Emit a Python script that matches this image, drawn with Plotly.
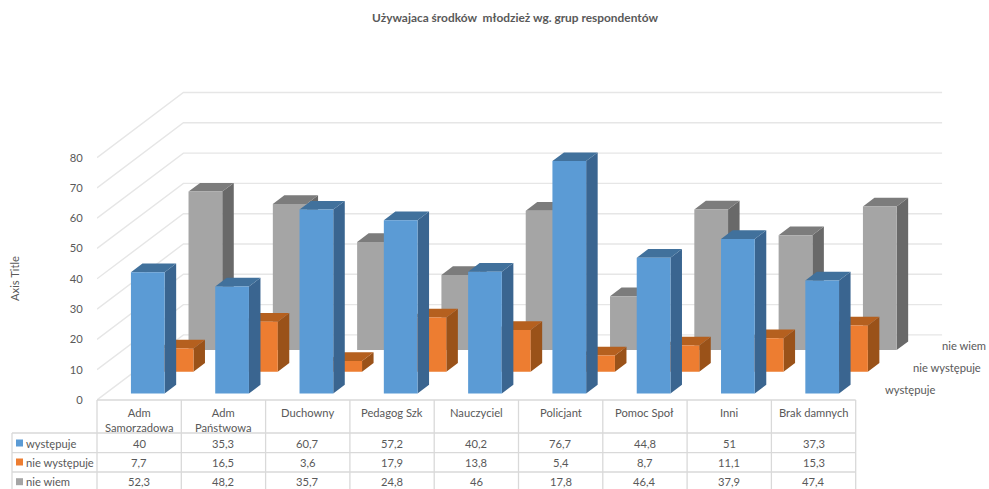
import plotly.graph_objects as go

title_text = "Używajaca środków  młodzież wg. grup respondentów"
categories = ["Adm<br>Samorzadowa", "Adm<br>Państwowa", "Duchowny", "Pedagog Szk", "Nauczyciel",
              "Policjant", "Pomoc Społ", "Inni", "Brak damnych"]
series_names = ["występuje", "nie występuje", "nie wiem"]
wystepuje = [40, 35.3, 60.7, 57.2, 40.2, 76.7, 44.8, 51, 37.3]
nie_wystepuje = [7.7, 16.5, 3.6, 17.9, 13.8, 5.4, 8.7, 11.1, 15.3]
nie_wiem = [52.3, 48.2, 35.7, 24.8, 46, 17.8, 46.4, 37.9, 47.4]
value_ticks = [0, 10, 20, 30, 40, 50, 60, 70, 80]

W, H = 989, 489
X0, Y0 = 97, 400           # front-left floor corner in window pixels
PLOT_W, PLOT_H = W - X0, Y0
CAT_PX, VAL_PX = 84.3, 3.03
KX, KY = 28.8 / CAT_PX, 21.7 / VAL_PX  # oblique shear per depth slot
LO, HI = 0.3, 0.7
FONT = "Lato"
FS = 11.2
TXT = "#595959"
GRID = "#e6e6e6"
TBL = "#d9d9d9"

styles = [("#5B9BD5", "#41719C", "#3A6590"),
          ("#ED7D31", "#B5601F", "#9A5219"),
          ("#A5A5A5", "#7C7C7C", "#696969")]
all_values = [wystepuje, nie_wystepuje, nie_wiem]


def proj(c, v, z):
    return c + KX * z, v + KY * z


def polys(faces):
    xs, ys = [], []
    for face in faces:
        for p in face + [face[0]]:
            x, y = proj(*p)
            xs.append(x)
            ys.append(y)
        xs.append(None)
        ys.append(None)
    return xs, ys


fig = go.Figure()

# walls' gridlines
gx, gy = [], []
for v in value_ticks:
    for p in [(0, v, 0), (0, v, 3), (9, v, 3)]:
        x, y = proj(*p)
        gx.append(x)
        gy.append(y)
    gx.append(None)
    gy.append(None)
fig.add_trace(go.Scatter(x=gx, y=gy, mode="lines", line=dict(color=GRID, width=1.4),
                         hoverinfo="skip", cliponaxis=False))

# bars, back series first
for s in [2, 1, 0]:
    vals = all_values[s]
    front, top, side = [], [], []
    for c, v in enumerate(vals):
        l, r = c + LO, c + HI
        zf, zb = s + LO, s + HI
        front.append([(l, 0, zf), (r, 0, zf), (r, v, zf), (l, v, zf)])
        top.append([(l, v, zf), (r, v, zf), (r, v, zb), (l, v, zb)])
        side.append([(r, 0, zf), (r, 0, zb), (r, v, zb), (r, v, zf)])
    for faces, col in zip((side, top, front), (styles[s][2], styles[s][1], styles[s][0])):
        x, y = polys(faces)
        fig.add_trace(go.Scatter(x=x, y=y, mode="lines", fill="toself", fillcolor=col,
                                 line=dict(width=0, color=col), name=series_names[s],
                                 hoverinfo="skip"))


def px_x(px):
    return (px - X0) / PLOT_W


def px_y(py):
    return (Y0 - py) / PLOT_H


shapes, notes = [], []


def hline(py, a, b):
    shapes.append(dict(type="line", xref="paper", yref="paper", x0=px_x(a), x1=px_x(b),
                       y0=px_y(py), y1=px_y(py), line=dict(color=TBL, width=1.3)))


def vline(px, a, b):
    shapes.append(dict(type="line", xref="paper", yref="paper", x0=px_x(px), x1=px_x(px),
                       y0=px_y(a), y1=px_y(b), line=dict(color=TBL, width=1.3)))


n = len(categories)
right = X0 + n * CAT_PX
hline(Y0, X0, right)
row_lines = [433, 452.7, 472]
row_centres = [443, 462, 481.7]
for py in row_lines:
    hline(py, 12, right)
vline(12, 433, 489)
for k in range(n + 1):
    vline(X0 + k * CAT_PX, Y0, 489)

for k, cat in enumerate(categories):
    notes.append(dict(text=cat, x=px_x(X0 + (k + .5) * CAT_PX), y=px_y(404), xref="paper", yref="paper",
                      xanchor="center", yanchor="top", showarrow=False))

for s, (name, vals) in enumerate(zip(series_names, all_values)):
    cy = row_centres[s]
    shapes.append(dict(type="rect", xref="paper", yref="paper", x0=px_x(16), x1=px_x(23),
                       y0=px_y(cy - 3.5), y1=px_y(cy + 3.5), fillcolor=styles[s][0], line=dict(width=0)))
    notes.append(dict(text=name, x=px_x(24), y=px_y(cy), xref="paper", yref="paper",
                      xanchor="left", yanchor="middle", showarrow=False))
    for k, v in enumerate(vals):
        notes.append(dict(text=str(v).replace(".", ","), x=px_x(X0 + (k + .5) * CAT_PX), y=px_y(cy),
                          xref="paper", yref="paper", xanchor="center", yanchor="middle", showarrow=False))
    # depth-axis label
    dx, dy = proj(n, 0, s + 1)
    notes.append(dict(text=name, x=dx - 2 / CAT_PX, y=proj(n, 0, s + 0.5)[1], xref="x", yref="y",
                      xanchor="left", yanchor="middle", showarrow=False))

notes.append(dict(text="Axis Title", x=px_x(14), y=px_y(279), xref="paper", yref="paper",
                  textangle=-90, xanchor="center", yanchor="middle", showarrow=False))

fig.update_layout(
    width=W, height=H, autosize=False,
    margin=dict(l=X0, r=0, t=0, b=H - Y0, pad=0),
    paper_bgcolor="white", plot_bgcolor="white", showlegend=False,
    font=dict(family=FONT, size=FS, color=TXT),
    title=dict(text="<b>" + title_text + "</b>", x=515 / W, xanchor="center", y=1 - 18 / H,
               yanchor="middle", font=dict(family=FONT, size=11.9, color=TXT)),
    xaxis=dict(range=[0, PLOT_W / CAT_PX], visible=False, fixedrange=True),
    yaxis=dict(range=[0, PLOT_H / VAL_PX], tickvals=value_ticks, ticktext=[str(v) for v in value_ticks],
               showgrid=False, zeroline=False, showline=False, ticks="outside", ticklen=11,
               tickcolor="rgba(0,0,0,0)", tickfont=dict(family=FONT, size=FS, color=TXT), fixedrange=True),
    shapes=shapes, annotations=notes,
)
fig.write_html("out.html", config=dict(displayModeBar=False),
               post_script="document.documentElement.style.overflow='hidden';document.body.style.margin='0';")
